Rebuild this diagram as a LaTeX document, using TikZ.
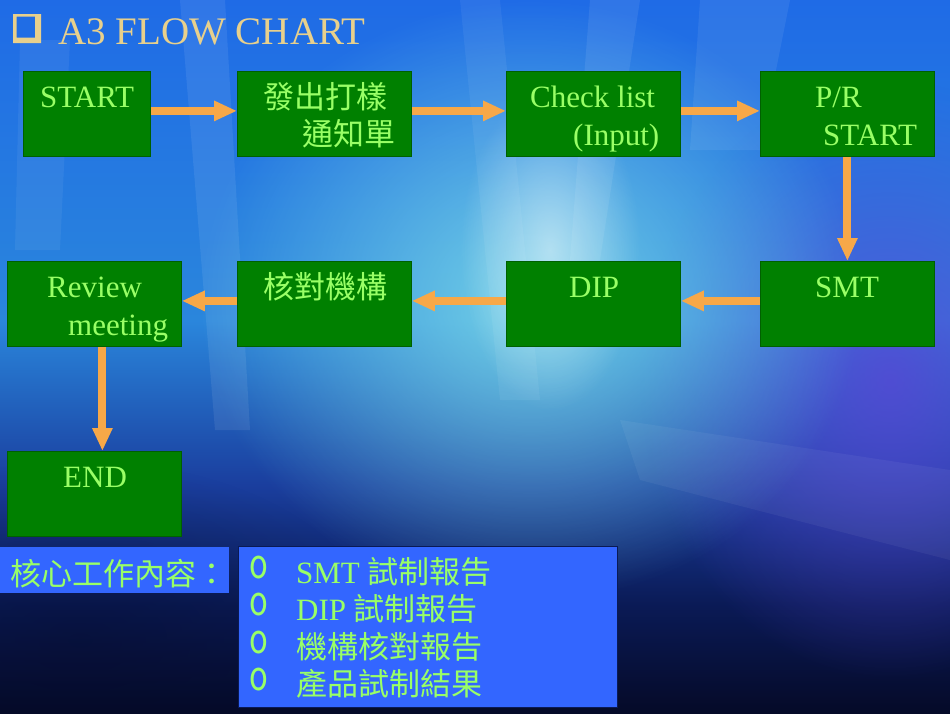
\documentclass[tikz,border=0pt]{standalone}
\usepackage{fontspec}
\setmainfont{Liberation Serif}
\newfontfamily\cjk{Noto Sans CJK TC}
\usetikzlibrary{arrows.meta,fadings}
\definecolor{boxgreen}{HTML}{008000}
\definecolor{txtgreen}{HTML}{99FF66}
\definecolor{arrorange}{HTML}{F7A848}
\definecolor{listblue}{HTML}{3366FF}
\definecolor{titlegold}{HTML}{E8D08C}
\definecolor{bgtop}{HTML}{1F6BE6}
\definecolor{bgmid}{HTML}{2A86DC}
\definecolor{bgdeep}{HTML}{1A3E9E}
\definecolor{bgdark}{HTML}{0A1A55}
\definecolor{bgbot}{HTML}{050A28}
\definecolor{glowc}{HTML}{7FDDE8}
\definecolor{purplec}{HTML}{5A46D6}
\pgfdeclareverticalshading{bgshade}{100bp}{color(0bp)=(bgbot); color(25bp)=(bgbot); color(32.5bp)=(bgdark); color(41bp)=(bgdeep); color(52.5bp)=(bgmid); color(75bp)=(bgtop); color(100bp)=(bgtop)}
\tikzfading[name=glowfade, inner color=transparent!0, outer color=transparent!100]
\begin{document}
\begin{tikzpicture}[x=1pt,y=-1pt,
  fbox/.style={draw=boxgreen!75!black, line width=0.8pt, fill=boxgreen, anchor=north west, inner sep=0pt, minimum width=174pt, minimum height=85pt},
  lbl/.style={anchor=base west, inner sep=0pt, text=txtgreen, font=\fontsize{31}{37}\selectfont},
  arr/.style={draw=arrorange, line width=8pt, -{Triangle[width=19pt,length=23pt]}},
  bluebox/.style={fill=listblue, anchor=north west, inner sep=0pt}]
% background
\useasboundingbox (0,0) rectangle (950,713);
\shade[shading=bgshade] (0,0) rectangle (950,713);
\fill[purplec, opacity=0.8, path fading=glowfade] (890,380) ellipse (250 and 300);
\fill[glowc, opacity=0.85, path fading=glowfade] (530,300) ellipse (330 and 300);
\fill[white, opacity=0.5, path fading=glowfade] (550,250) ellipse (90 and 160);
\fill[white, opacity=0.08] (180,0) -- (225,0) -- (250,430) -- (215,430) -- cycle;
\fill[white, opacity=0.08] (590,0) -- (640,0) -- (600,260) -- (570,260) -- cycle;
\fill[white, opacity=0.07] (700,0) -- (790,0) -- (760,150) -- (690,150) -- cycle;
\fill[white, opacity=0.06] (20,40) -- (70,40) -- (60,250) -- (15,250) -- cycle;
\fill[white, opacity=0.06] (460,0) -- (500,0) -- (540,400) -- (500,400) -- cycle;
\fill[white, opacity=0.05] (620,420) -- (950,470) -- (950,560) -- (640,480) -- cycle;
\fill[bgbot, opacity=0.35, path fading=glowfade] (80,640) ellipse (300 and 180);
% title
\fill[titlegold, even odd rule] (13,14) rectangle (41,43) (16.5,16.5) rectangle (35,37.5);
\node[anchor=base west, inner sep=0pt, text=titlegold, font=\fontsize{39}{46}\selectfont] (title) at (58,44) {A3 FLOW CHART};
% boxes
\node[fbox, minimum width=127pt] (start) at (23,71) {};
\node[fbox] (notice) at (237,71) {};
\node[fbox] (check) at (506,71) {};
\node[fbox] (pr) at (760,71) {};
\node[fbox] (smt) at (760,261) {};
\node[fbox] (dip) at (506,261) {};
\node[fbox] (mech) at (237,261) {};
\node[fbox] (review) at (7,261) {};
\node[fbox] (end) at (7,451) {};
% texts
\node[lbl] (t1) at (40,107) {START};
\node[lbl] (t2a) at (263,108) {\cjk 發出打樣};
\node[lbl] (t2b) at (302,145) {\cjk 通知單};
\node[lbl] (t3a) at (530,107) {Check list};
\node[lbl] (t3b) at (573,145) {(Input)};
\node[lbl] (t4a) at (815,107) {P/R};
\node[lbl] (t4b) at (823,145) {START};
\node[lbl] (t5) at (815,297) {SMT};
\node[lbl] (t6) at (569,297) {DIP};
\node[lbl] (t7) at (263,298) {\cjk 核對機構};
\node[lbl] (t8a) at (47,297) {Review};
\node[lbl] (t8b) at (68,335) {meeting};
\node[lbl] (t9) at (63,487) {END};
% arrows
\draw[arr] ([yshift=3pt]start.east) -- ([yshift=3pt]notice.west);
\draw[arr] ([yshift=3pt]notice.east) -- ([yshift=3pt]check.west);
\draw[arr] ([yshift=3pt]check.east) -- ([yshift=3pt]pr.west);
\draw[arr] (pr.south) -- (smt.north);
\draw[arr] ([yshift=3pt]smt.west) -- ([yshift=3pt]dip.east);
\draw[arr] ([yshift=3pt]dip.west) -- ([yshift=3pt]mech.east);
\draw[arr] ([yshift=3pt]mech.west) -- ([yshift=3pt]review.east);
\draw[arr] ([xshift=8pt]review.south) -- ([xshift=8pt]end.north);
% bottom boxes
\node[bluebox, minimum width=229pt, minimum height=46pt] (lab) at (0,547) {};
\node[bluebox, draw=bgdark, line width=1pt, minimum width=379pt, minimum height=161pt] (list) at (238,546) {};
\node[lbl] (labt) at (10,585) {\cjk 核心工作內容：};
\node[lbl] (b1) at (249,578) {\scalebox{1}[1.3]{\cjk o}};
\node[lbl] (b2) at (249,615.5) {\scalebox{1}[1.3]{\cjk o}};
\node[lbl] (b3) at (249,653) {\scalebox{1}[1.3]{\cjk o}};
\node[lbl] (b4) at (249,690.5) {\scalebox{1}[1.3]{\cjk o}};
\node[lbl] (i1) at (296,583) {SMT {\cjk 試制報告}};
\node[lbl] (i2) at (296,620.5) {DIP {\cjk 試制報告}};
\node[lbl] (i3) at (296,658) {\cjk 機構核對報告};
\node[lbl] (i4) at (296,695.5) {\cjk 產品試制結果};
\end{tikzpicture}
\end{document}
